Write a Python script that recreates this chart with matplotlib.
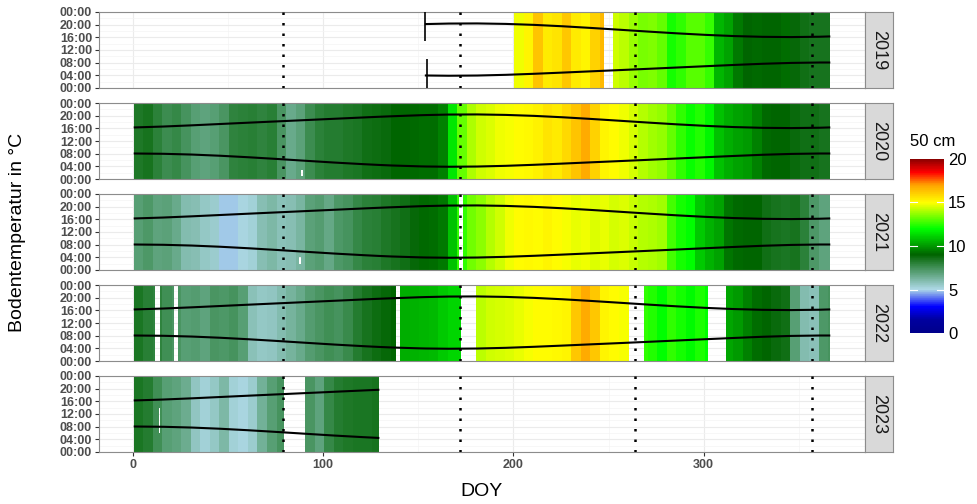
import numpy as np
import matplotlib.pyplot as plt
from matplotlib.colors import LinearSegmentedColormap

plt.rcParams['font.family'] = ['Liberation Sans', 'DejaVu Sans']

nan = np.nan
years = [2019, 2020, 2021, 2022, 2023]

# soil temperature at 50 cm, 5-day blocks (block i = DOY 5i+1 .. 5i+5), nan = no data
t2019 = [nan] * 40 + [14.8, 15.2, 16.3, 15.4, 15.6, 16.2, 15.4, 15.2, 16.0, 16.5,
                      14.4, 14.2, 13.8, 13.4, 13.5, 13.2, 12.2, 12.5, 13.0, 13.0,
                      12.6, 10.6, 10.2, 9.4, 9.0, 9.1, 9.0, 9.0, 9.2, 8.9,
                      8.6, 8.5, 8.5, 8.5]
t2020 = [8.3, 8.5, 8.0, 7.6, 7.8, 7.4, 7.0, 6.8, 7.0, 7.3,
         7.9, 8.0, 8.1, 7.9, 8.1, 7.3, 6.6, 6.9, 7.6, 8.0,
         8.2, 8.2, 8.3, 8.4, 8.6, 8.7, 8.8, 9.0, 9.0, 9.1,
         9.2, 9.2, 9.6, 11.5, 13.2, 14.0, 14.4, 14.6, 14.8, 14.9,
         15.0, 15.1, 15.3, 15.6, 15.4, 15.8, 16.3, 16.8, 16.0, 15.2,
         15.0, 14.8, 14.5, 14.1, 13.9, 13.7, 13.2, 12.5, 12.1, 12.4,
         11.8, 10.8, 10.4, 10.2, 10.0, 9.6, 9.1, 9.0, 9.0, 8.8,
         8.6, 8.6, 8.5, 8.5]
t2021 = [7.0, 7.2, 6.8, 6.9, 6.6, 6.0, 5.9, 5.6, 5.4, 4.9,
         4.85, 5.1, 5.3, 5.9, 6.1, 5.8, 5.9, 6.2, 6.9, 7.1,
         6.7, 7.2, 7.4, 7.8, 8.0, 8.1, 8.3, 8.5, 8.6, 8.9,
         9.1, 9.2, 9.4, 10.8, 12.5, 13.3, 13.6, 14.1, 14.4, 14.8,
         15.0, 15.1, 15.0, 15.2, 15.0, 14.9, 14.7, 14.8, 14.6, 14.7,
         14.5, 14.6, 14.3, 14.1, 14.0, 13.9, 12.8, 12.2, 12.0, 11.0,
         10.5, 10.2, 9.3, 9.1, 9.0, 9.0, 8.6, 8.5, 8.4, 8.5,
         8.0, 7.2, 6.8, 6.8]
t2022 = [8.4, 8.1, 7.9, 7.5, 7.3, 7.0, 7.1, 6.8, 7.3, 7.2,
         7.4, 7.0, 5.8, 5.6, 5.7, 6.0, 6.3, 6.6, 7.1, 7.3,
         7.5, 7.4, 7.7, 8.2, 8.5, 8.7, 8.9, 9.0, 10.4, 10.5,
         10.6, 10.7, 11.0, 11.2, 11.2, nan, 14.2, 14.4, 14.5, 14.6,
         14.7, 14.9, 15.0, 15.0, 15.1, 15.2, 16.2, 16.8, 16.2, 15.2,
         15.0, 14.9, nan, 12.5, 12.4, 12.0, 12.5, 12.2, 11.9, 12.3,
         12.0, nan, 10.3, 10.0, 9.6, 9.2, 9.0, 8.8, 8.6, 7.0,
         6.0, 5.8, 7.2, 7.4]
t2023 = [8.4, 8.2, 7.5, 7.0, 6.8, 6.5, 5.7, 5.3, 5.6, 6.1,
         5.3, 5.1, 5.4, 6.4, 7.0, 7.4, nan, nan, 7.3, 6.8,
         7.8, 8.2, 8.3, 8.4, 8.4, 8.5] + [nan] * 48
temps = [t2019, t2020, t2021, t2022, t2023]

# missing data: (first DOY, last DOY, from hour, to hour)
gaps = [
    [(248, 252, 0, 24)],
    [(89, 89, 1, 3)],
    [(172, 173, 0, 24), (88, 88, 2, 4)],
    [(12, 14, 0, 24), (22, 23, 0, 24), (139, 140, 0, 24), (173, 179, 0, 24),
     (261, 268, 0, 24), (303, 311, 0, 24)],
    [(14, 14, 6, 14), (80, 89, 0, 24), (130, 366, 0, 24)],
]

# sunrise / sunset (hour of day, CET)
sun_doy = [1, 16, 31, 46, 61, 76, 91, 106, 121, 129, 136, 151, 154, 166, 181, 196,
           211, 226, 241, 256, 271, 286, 301, 316, 331, 346, 361, 366]
sunrise = [8.05, 7.96, 7.72, 7.34, 6.86, 6.32, 5.75, 5.19, 4.69, 4.45, 4.27, 3.99, 3.95,
           3.87, 3.94, 4.16, 4.49, 4.87, 5.27, 5.66, 6.06, 6.47, 6.88, 7.28, 7.65,
           7.92, 8.05, 8.05]
sunset = [16.28, 16.57, 16.95, 17.37, 17.79, 18.20, 18.61, 19.02, 19.43, 19.64, 19.81,
          20.14, 20.19, 20.35, 20.39, 20.24, 19.93, 19.49, 18.96, 18.39, 17.81, 17.26,
          16.78, 16.40, 16.16, 16.08, 16.19, 16.28]
sun_range = [(154, 366), (1, 366), (1, 366), (1, 366), (1, 129)]
start_marks_2019 = [(153.5, 14.9, 24.0), (154.5, 0.0, 9.3)]

season_doy = [79, 172, 264, 357]

cb_vals = [0, 1.5, 3, 5, 9, 12, 15, 17, 18.5, 20]
cb_cols = ['#00008B', '#00009F', '#0000FF', '#ADD8E6', '#006400', '#00FF00',
           '#FFFF00', '#FFA500', '#FF0000', '#8B0000']
cmap = LinearSegmentedColormap.from_list('soil', [(v / 20, c) for v, c in zip(cb_vals, cb_cols)])

W, H = 978, 504
fig = plt.figure(figsize=(W / 100, H / 100), dpi=100)

hour_ticks = [0, 4, 8, 12, 16, 20, 24]
hour_labels = ['00:00', '04:00', '08:00', '12:00', '16:00', '20:00', '00:00']

for k, year in enumerate(years):
    top = 12 + 91 * k
    ax = fig.add_axes([99 / W, 1 - (top + 76) / H, 766 / W, 76 / H])

    daily = np.repeat(np.array(temps[k], dtype=float), 5)[:366]
    z = np.tile(daily, (24, 1))
    for d0, d1, h0, h1 in gaps[k]:
        z[h0:h1, d0 - 1:d1] = nan
    mesh = ax.pcolormesh(np.arange(0.5, 367.5), np.arange(25), np.ma.masked_invalid(z),
                         cmap=cmap, vmin=0, vmax=20, shading='flat', linewidth=0,
                         antialiased=False)

    lo, hi = sun_range[k]
    sel = [i for i, d in enumerate(sun_doy) if lo <= d <= hi]
    ax.plot([sun_doy[i] for i in sel], [sunrise[i] for i in sel], color='black', lw=1.5, zorder=3)
    ax.plot([sun_doy[i] for i in sel], [sunset[i] for i in sel], color='black', lw=1.5, zorder=3)
    if year == 2019:
        for x, y0, y1 in start_marks_2019:
            ax.vlines(x, y0, y1, color='black', lw=1.2, zorder=3)

    for d in season_doy:
        ax.axvline(d, color='black', lw=1.8, ls=(0, (1, 3.2)), zorder=4)

    ax.set_xlim(-17.8, 384.8)
    ax.set_ylim(0, 24)
    ax.set_xticks([0, 100, 200, 300])
    ax.set_xticks([50, 150, 250, 350], minor=True)
    ax.set_yticks(hour_ticks)
    ax.set_yticks([2, 6, 10, 14, 18, 22], minor=True)
    ax.set_yticklabels(hour_labels, fontweight='bold')
    ax.grid(which='major', color='#EBEBEB', lw=0.8)
    ax.grid(which='minor', color='#F4F4F4', lw=0.5)
    ax.set_axisbelow(True)
    ax.tick_params(which='major', length=3, color='#333333', labelcolor='#4D4D4D',
                   labelsize=9, pad=2)
    ax.tick_params(which='minor', length=0)
    for s in ax.spines.values():
        s.set_color('#8C8C8C')
        s.set_linewidth(0.8)
    if k < len(years) - 1:
        ax.tick_params(labelbottom=False, bottom=False)
    else:
        ax.set_xticklabels(['0', '100', '200', '300'], fontweight='bold')

    sax = fig.add_axes([865 / W, 1 - (top + 76) / H, 28 / W, 76 / H])
    sax.set_facecolor('#D9D9D9')
    sax.set_xticks([])
    sax.set_yticks([])
    for s in sax.spines.values():
        s.set_color('#8C8C8C')
        s.set_linewidth(0.8)
    sax.text(0.5, 0.5, str(year), rotation=270, ha='center', va='center',
             fontsize=13, color='#1A1A1A', transform=sax.transAxes)

cax = fig.add_axes([910 / W, 1 - 333 / H, 34 / W, 174 / H])
cb = fig.colorbar(mesh, cax=cax, ticks=[0, 5, 10, 15, 20])
cb.outline.set_visible(False)
cax.tick_params(length=0, labelsize=12, pad=3)
for v in [5, 10, 15]:
    cax.plot([0, 0.2], [v, v], color='white', lw=0.8, transform=cax.get_yaxis_transform())
    cax.plot([0.8, 1], [v, v], color='white', lw=0.8, transform=cax.get_yaxis_transform())
fig.text(910 / W, 1 - 142 / H, '50 cm', ha='left', va='center', fontsize=12)

fig.text(18 / W, 1 - 232 / H, 'Bodentemperatur in °C', rotation=90, ha='center',
         va='center', fontsize=14)
fig.text(482 / W, 1 - 492 / H, 'DOY', ha='center', va='center', fontsize=14)

fig.savefig('out.png', dpi=100)
